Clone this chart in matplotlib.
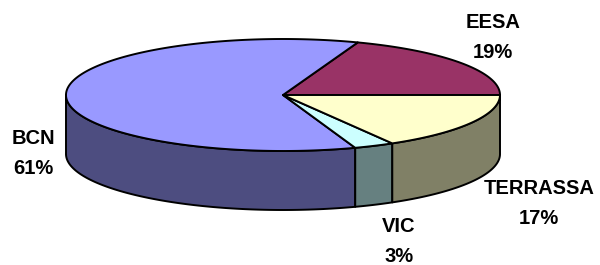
import matplotlib.pyplot as plt
import numpy as np
from matplotlib.patches import Polygon

# slice data, counterclockwise from the 3 o'clock position
labels = ["EESA", "BCN", "VIC", "TERRASSA"]
shares = [19.4, 61.0, 3.0, 16.6]
top_colors = ["#993366", "#9999FF", "#CCFFFF", "#FFFFCC"]
side_colors = ["#4D1A33", "#4D4D80", "#668080", "#808066"]

# label anchor points (pixels)
label_pos = [(493, 22), (33, 139), (399, 226), (539, 188)]

# pie geometry (pixels)
cx, cy = 283, 95
rx, ry = 217, 56
depth = 59


def arc(t0, t1, dy=0.0):
    t = np.radians(np.linspace(t0, t1, max(int(abs(t1 - t0)) * 2, 2)))
    return np.column_stack([cx + rx * np.cos(t), cy - ry * np.sin(t) + dy])


fig = plt.figure(figsize=(6, 2.65), dpi=100)
ax = fig.add_axes([0, 0, 1, 1])
ax.set_xlim(0, 600)
ax.set_ylim(265, 0)
ax.axis("off")

fracs = np.array(shares, dtype=float) / sum(shares)
edges = np.concatenate([[0], np.cumsum(fracs) * 360])

#%% sides (front half only)
for i in range(len(shares)):
    t0, t1 = max(edges[i], 180), min(edges[i + 1], 360)
    if t1 <= t0:
        continue
    top = arc(t0, t1)
    bottom = arc(t1, t0, depth)
    ax.add_patch(Polygon(np.vstack([top, bottom]), closed=True,
                         facecolor=side_colors[i], edgecolor="black",
                         linewidth=1.4, joinstyle="round"))

#%% tops
for i in range(len(shares)):
    pts = np.vstack([[cx, cy], arc(edges[i], edges[i + 1])])
    ax.add_patch(Polygon(pts, closed=True, facecolor=top_colors[i],
                         edgecolor="black", linewidth=1.4, joinstyle="round"))

#%% labels
for (x, y), lab, s in zip(label_pos, labels, shares):
    ax.text(x, y, lab, ha="center", va="center", fontsize=14.5,
            fontweight="bold", family="Liberation Sans")
    ax.text(x, y + 30, f"{round(s)}%", ha="center", va="center", fontsize=14.5,
            fontweight="bold", family="Liberation Sans")

fig.savefig("out.png", dpi=100)
